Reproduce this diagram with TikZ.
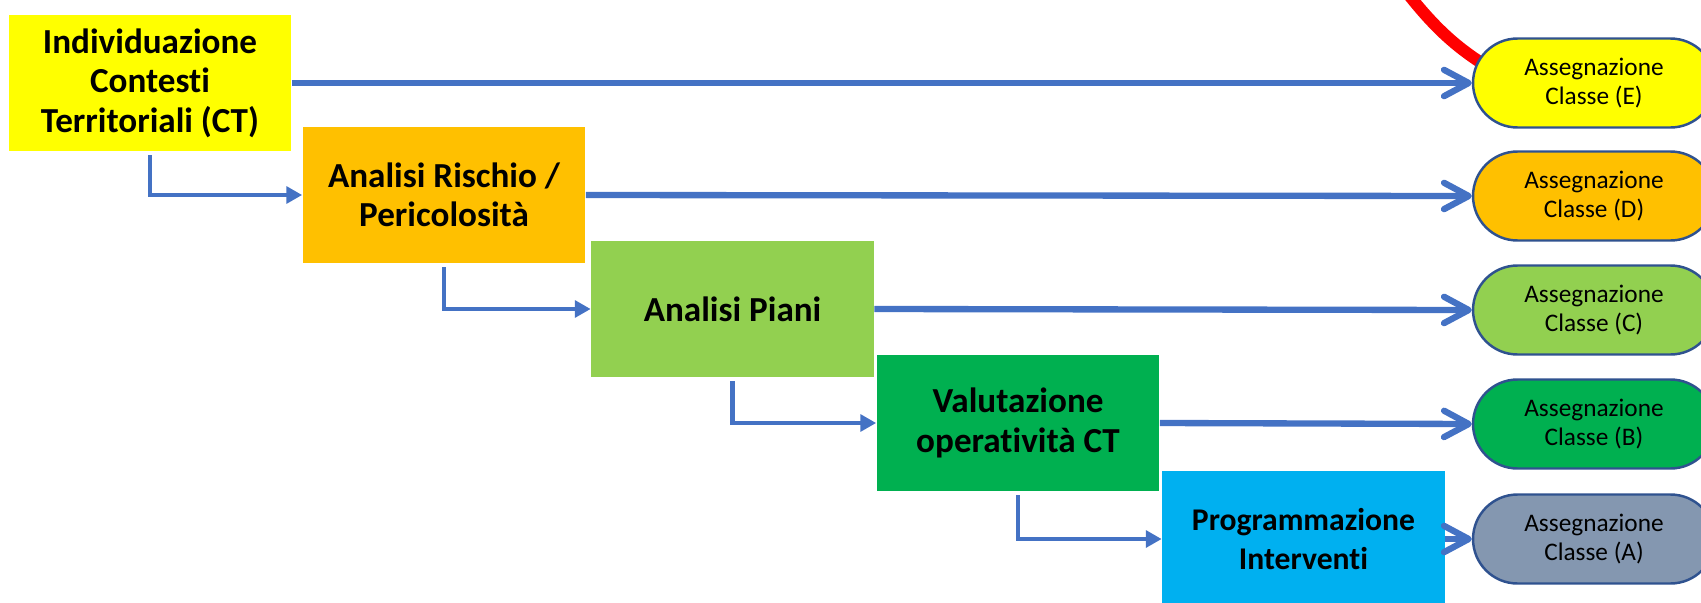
\documentclass[tikz,border=0pt]{standalone}
\usepackage{fontspec}
\setmainfont{Carlito}[Ligatures=NoCommon]
\usetikzlibrary{arrows.meta}

\definecolor{linkblue}{HTML}{4472C4}
\definecolor{pillborder}{HTML}{2F528F}
\definecolor{boxyellow}{HTML}{FFFF00}
\definecolor{boxorange}{HTML}{FFC000}
\definecolor{boxlightgreen}{HTML}{92D050}
\definecolor{boxgreen}{HTML}{00B050}
\definecolor{boxblue}{HTML}{00B0F0}
\definecolor{pillgrey}{HTML}{8497B0}

\tikzset{
    stepbox/.style={minimum width=5.66cm, minimum height=2.74cm, inner sep=0pt,
        align=center, font=\fontsize{20}{22.5}\selectfont\bfseries},
    classpill/.style={draw=pillborder, line width=1.4pt, rounded corners=0.89cm,
        minimum width=4.84cm, minimum height=1.78cm, inner sep=0pt,
        align=center, font=\fontsize{14.4}{16.5}\selectfont},
    link/.style={linkblue, line width=3.6pt, -{Straight Barb[round,length=14pt,width=15pt]}},
    elbow/.style={linkblue, line width=2.7pt, shorten <=2pt, -{Triangle[length=9pt,width=9.5pt]}}
}

\begin{document}
\begin{tikzpicture}[x=0.02cm, y=-0.02cm]
    \useasboundingbox (0,0) rectangle (1701,602);

    % red arc behind class E
    \draw[red, line width=6.8pt] (1405,-10) .. controls (1440,35) and (1465,55) .. (1510,80);

    % steps
    \node[stepbox, fill=boxyellow] (ict) at (150,83) {Individuazione\\Contesti\\Territoriali (CT)};
    \node[stepbox, fill=boxorange] (arp) at (444,195) {Analisi Rischio /\\Pericolosità};
    \node[stepbox, fill=boxlightgreen] (ap) at (732.5,309) {Analisi Piani};
    \node[stepbox, fill=boxgreen] (voc) at (1018,423) {Valutazione\\operatività CT};
    \node[stepbox, fill=boxblue, font=\fontsize{18}{22.5}\selectfont\bfseries] (pi) at (1303.5,539) {Programmazione\\Interventi};

    % classes
    \node[classpill, fill=boxyellow] (clE) at (1594,83) {Assegnazione\\Classe (E)};
    \node[classpill, fill=boxorange] (clD) at (1594,196) {Assegnazione\\Classe (D)};
    \node[classpill, fill=boxlightgreen] (clC) at (1594,310) {Assegnazione\\Classe (C)};
    \node[classpill, fill=boxgreen] (clB) at (1594,424) {Assegnazione\\Classe (B)};
    \node[classpill, fill=pillgrey] (clA) at (1594,539) {Assegnazione\\Classe (A)};

    % step to class
    \draw[link] (ict.east) -- (clE.west);
    \draw[link] (arp.east) -- (clD.west);
    \draw[link] (ap.east) -- (clC.west);
    \draw[link] (voc.east) -- (clB.west);
    \draw[link] (pi.east) -- (clA.west);

    % step to next step
    \draw[elbow] (ict.south) |- (arp.west);
    \draw[elbow] (arp.south) |- (ap.west);
    \draw[elbow] (ap.south) |- (voc.west);
    \draw[elbow] (voc.south) |- (pi.west);
\end{tikzpicture}
\end{document}
